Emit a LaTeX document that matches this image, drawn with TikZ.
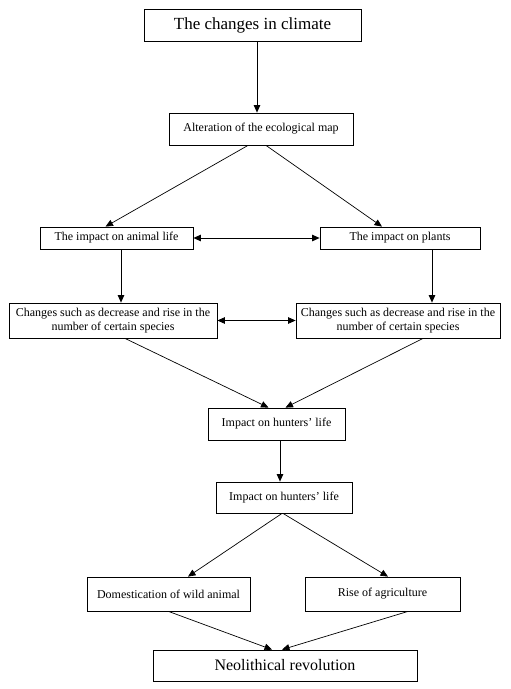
\documentclass[tikz,border=0pt]{standalone}
\usepackage{fontspec}
\setmainfont{Liberation Serif}
\usetikzlibrary{arrows.meta}
\begin{document}
\begin{tikzpicture}[x=1pt,y=-1pt,
  box/.style={draw,line width=0.8pt,rectangle,inner sep=1pt,font=\fontsize{12}{14}\selectfont,align=center},
  bigbox/.style={box,font=\fontsize{16}{19}\selectfont},
  arr/.style={-{Triangle[length=7.5pt,width=6.5pt]},line width=0.7pt},
  darr/.style={{Triangle[length=7.5pt,width=6.5pt]}-{Triangle[length=7.5pt,width=6.5pt]},line width=0.7pt}]
\useasboundingbox[fill=white] (0,0) rectangle (511,689);
\node[bigbox,font=\fontsize{17}{20}\selectfont,minimum width=217pt,minimum height=32pt] (n1) at (252.5,25) {The changes in climate};
\node[box,minimum width=184pt,minimum height=32pt] (n2) at (261,129) {Alteration of the ecological map};
\node[box,minimum width=153pt,minimum height=22pt] (n3) at (116.5,238) {The impact on animal life};
\node[box,minimum width=160pt,minimum height=22pt] (n4) at (400,238) {The impact on plants};
\node[box,minimum width=208pt,minimum height=35pt] (n5) at (113,320.5) {Changes such as decrease and rise in the\\number of certain species};
\node[box,minimum width=204pt,minimum height=35pt] (n6) at (398,320.5) {Changes such as decrease and rise in the\\number of certain species};
\node[box,minimum width=137pt,minimum height=32pt] (n7) at (276.5,424) {Impact on hunters' life};
\node[box,minimum width=136pt,minimum height=31pt] (n8) at (284,497.5) {Impact on hunters' life};
\node[box,minimum width=163pt,minimum height=34pt] (n9) at (168.5,594) {Domestication of wild animal};
\node[box,minimum width=155pt,minimum height=34pt] (n10) at (382.5,594) {Rise of agriculture};
\node[bigbox,minimum width=264pt,minimum height=31pt] (n11) at (285,665.5) {Neolithical revolution};
\draw[arr] ([xshift=4.5pt]n1.south) -- ([xshift=4.5pt]n1.south |- n2.north);
\draw[arr] ([xshift=-13pt]n2.south) -- ([xshift=-11pt]n3.north);
\draw[arr] ([xshift=5pt]n2.south) -- ([xshift=-18pt]n4.north);
\draw[darr] (n3.east) -- (n4.west);
\draw[arr] ([xshift=4.5pt]n3.south) -- ([xshift=4.5pt]n3.south |- n5.north);
\draw[arr] ([xshift=32pt]n4.south) -- ([xshift=32pt]n4.south |- n6.north);
\draw[darr] (n5.east) -- (n6.west);
\draw[arr] ([xshift=12pt]n5.south) -- ([xshift=-8pt]n7.north);
\draw[arr] ([xshift=25pt]n6.south) -- ([xshift=9pt]n7.north);
\draw[arr] ([xshift=3.5pt]n7.south) -- ([xshift=3.5pt]n7.south |- n8.north);
\draw[arr] ([xshift=-2pt]n8.south) -- ([xshift=19.5pt]n9.north);
\draw[arr] ([xshift=-1pt]n8.south) -- ([xshift=5.5pt]n10.north);
\draw[arr] (n9.south) -- ([xshift=-13pt]n11.north);
\draw[arr] ([xshift=25.5pt]n10.south) -- ([xshift=-3pt]n11.north);
\end{tikzpicture}
\end{document}
